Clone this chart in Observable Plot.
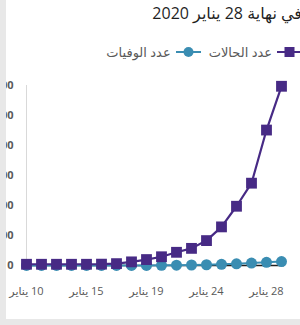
<!DOCTYPE html>
<html>
<head>
<meta charset="utf-8">
<script src="https://cdn.jsdelivr.net/npm/d3@7"></script>
<script src="https://cdn.jsdelivr.net/npm/@observablehq/plot@0.6"></script>
<style>
  html, body { margin: 0; padding: 0; background: #fff; }
  body { width: 300px; height: 325px; overflow: hidden; position: relative; font-family: "Open Sans", "DejaVu Sans", sans-serif; }
  #title { position: absolute; top: 2px; right: -2px; direction: rtl; white-space: nowrap; font-size: 16px; color: #1f1f1f; }
  #legend { position: absolute; top: 43px; right: -2px; direction: rtl; display: flex; align-items: center; white-space: nowrap; font-size: 13px; color: #595959; }
  #legend .item { display: flex; align-items: center; }
  #legend .item + .item { margin-right: 8px; }
  #legend svg { display: block; margin-left: 5px; }
  #chart { position: absolute; top: 66px; left: 0; }
  #chart g[aria-label="x-axis tick label"] text { direction: rtl; unicode-bidi: embed; }
  .edge-left { position: absolute; left: 0; top: 0; width: 6px; height: 325px; background: #e8e8e8; }
  .edge-bottom { position: absolute; left: 0; top: 319px; width: 300px; height: 6px; background: #e8e8e8; }
</style>
</head>
<body>
<div id="title">في نهاية 28 يناير 2020</div>
<div id="legend"></div>
<div id="chart"></div>
<div class="edge-left"></div>
<div class="edge-bottom"></div>
<script>
// ---- data ----
const dates = ["10 يناير","11 يناير","12 يناير","13 يناير","15 يناير","16 يناير","17 يناير","18 يناير","19 يناير","20 يناير","21 يناير","22 يناير","24 يناير","25 يناير","26 يناير","27 يناير","28 يناير","29 يناير"];
const tickLabels = ["10 يناير","15 يناير","19 يناير","24 يناير","28 يناير"];
const cases  = [41, 41, 41, 41, 41, 45, 62, 121, 198, 291, 440, 571, 830, 1287, 1975, 2744, 4515, 5974];
const deaths = [1, 1, 1, 1, 2, 2, 2, 3, 4, 6, 9, 17, 25, 41, 56, 80, 106, 132];
const yTicks = [0, 1000, 2000, 3000, 4000, 5000, 6000];
const seriesNames = ["عدد الحالات", "عدد الوفيات"];
const seriesColors = ["#472a85", "#3a8db2"];

const rows = dates.map((d, i) => ({date: d, cases: cases[i], deaths: deaths[i]}));

// ---- legend ----
const legend = d3.select("#legend");
seriesNames.forEach((name, i) => {
  const item = legend.append("span").attr("class", "item");
  const s = item.append("svg").attr("width", 25).attr("height", 12);
  s.append("line").attr("x1", 0).attr("x2", 25).attr("y1", 6).attr("y2", 6)
    .attr("stroke", seriesColors[i]).attr("stroke-width", 2);
  if (i === 0) s.append("rect").attr("x", 7.5).attr("y", 1).attr("width", 10).attr("height", 10).attr("fill", seriesColors[i]);
  else s.append("circle").attr("cx", 12.5).attr("cy", 6).attr("r", 5).attr("fill", seriesColors[i]);
  item.append("span").text(name);
});

// ---- chart ----
const chart = Plot.plot({
  width: 300,
  height: 252,
  marginTop: 19,
  marginBottom: 53,
  marginLeft: 23,
  marginRight: 16,
  style: { fontFamily: "'Open Sans', 'DejaVu Sans', sans-serif", background: "transparent", color: "#595959", overflow: "visible" },
  x: { type: "point", domain: dates, padding: 0 },
  y: { domain: [0, 6000] },
  marks: [
    Plot.ruleX([dates[0]], { y1: 0, y2: 6000, stroke: "#d9d9d9", strokeWidth: 1 }),
    Plot.ruleY([0], { stroke: "#222", strokeWidth: 1.5 }),
    Plot.axisY(yTicks, { tickSize: 0, tickPadding: 10, tickFormat: d3.format("d"), fontSize: 11, fontWeight: "bold", fill: "#595959", label: null }),
    Plot.axisX(dates.filter((d, i) => i % 4 === 0), { tickSize: 0, tickPadding: 22, fontSize: 11, fill: "#595959", label: null,
      tickFormat: (d) => tickLabels[dates.indexOf(d) / 4] }),
    Plot.line(rows, { x: "date", y: "deaths", stroke: seriesColors[1], strokeWidth: 2 }),
    Plot.dot(rows, { x: "date", y: "deaths", r: 5.5, fill: seriesColors[1], symbol: "circle" }),
    Plot.line(rows, { x: "date", y: "cases", stroke: seriesColors[0], strokeWidth: 2.2 }),
    Plot.dot(rows, { x: "date", y: "cases", r: 6.1, fill: seriesColors[0], symbol: "square" })
  ]
});
document.getElementById("chart").appendChild(chart);
</script>
</body>
</html>
